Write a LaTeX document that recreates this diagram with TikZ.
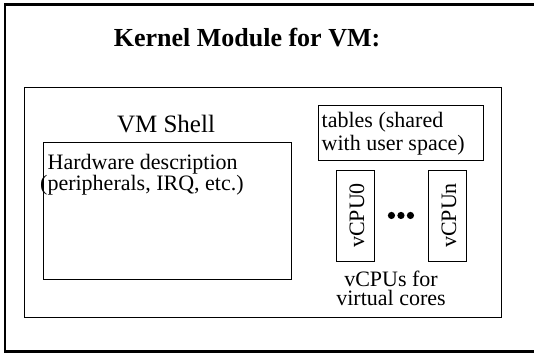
\documentclass[tikz,border=0pt]{standalone}
\usepackage{fontspec}
\setmainfont{Liberation Serif}
\usetikzlibrary{calc}
\begin{document}
\begin{tikzpicture}[x=1pt,y=-1pt,
  thin box/.style={draw,line width=0.9pt,inner sep=0pt},
  txt/.style={inner sep=0pt,font=\fontsize{22}{24}\selectfont}]
\useasboundingbox (0,0) rectangle (534,354);
% outer frame
\draw[line width=2.8pt] (540,4.5) -- (5,4.5) -- (5,351.5) -- (540,351.5);
\node[inner sep=0pt,anchor=base,font=\bfseries\fontsize{26}{30}\selectfont] (title) at (247,46.5) {Kernel Module for VM:};
% inner box
\node[thin box,minimum width=477pt,minimum height=230pt,anchor=north west] (inner) at (23.5,87) {};
\node[inner sep=0pt,anchor=base,font=\fontsize{25}{28}\selectfont] (shell) at (166,132.5) {VM Shell};
\node[thin box,minimum width=248pt,minimum height=137pt,anchor=north west] (hw) at (42.5,142) {};
\node[txt,anchor=base west] (hw1) at (47.5,169.5) {Hardware description};
\node[txt,anchor=base west] (hw2) at (40,190.5) {(peripherals, IRQ, etc.)};
\node[thin box,minimum width=165pt,minimum height=55pt,anchor=north west] (tables) at (317.5,105) {};
\node[txt,anchor=base west] (tab1) at (321.5,127) {tables (shared};
\node[txt,anchor=base west] (tab2) at (321.5,150.5) {with user space)};
\node[thin box,minimum width=38pt,minimum height=91pt,anchor=north west] (cpu0) at (335.5,169.5) {};
\node[txt,rotate=90] (cpu0t) at ($(cpu0.center)+(2,0)$) {vCPU0};
\node[thin box,minimum width=38pt,minimum height=91pt,anchor=north west] (cpun) at (427.5,169.5) {};
\node[txt,rotate=90] (cpunt) at ($(cpun.center)+(2,0)$) {vCPUn};
\coordinate (mid) at ($(cpu0.center)!0.5!(cpun.center)$);
\foreach \dx in {-9.5,0,9.5} \fill ($(mid)+(\dx,0)$) circle (3.6pt);
\node[txt,anchor=north,align=center,font=\fontsize{22}{18.5}\selectfont] (cap) at (391,271) {vCPUs for\\virtual cores};
\end{tikzpicture}
\end{document}
